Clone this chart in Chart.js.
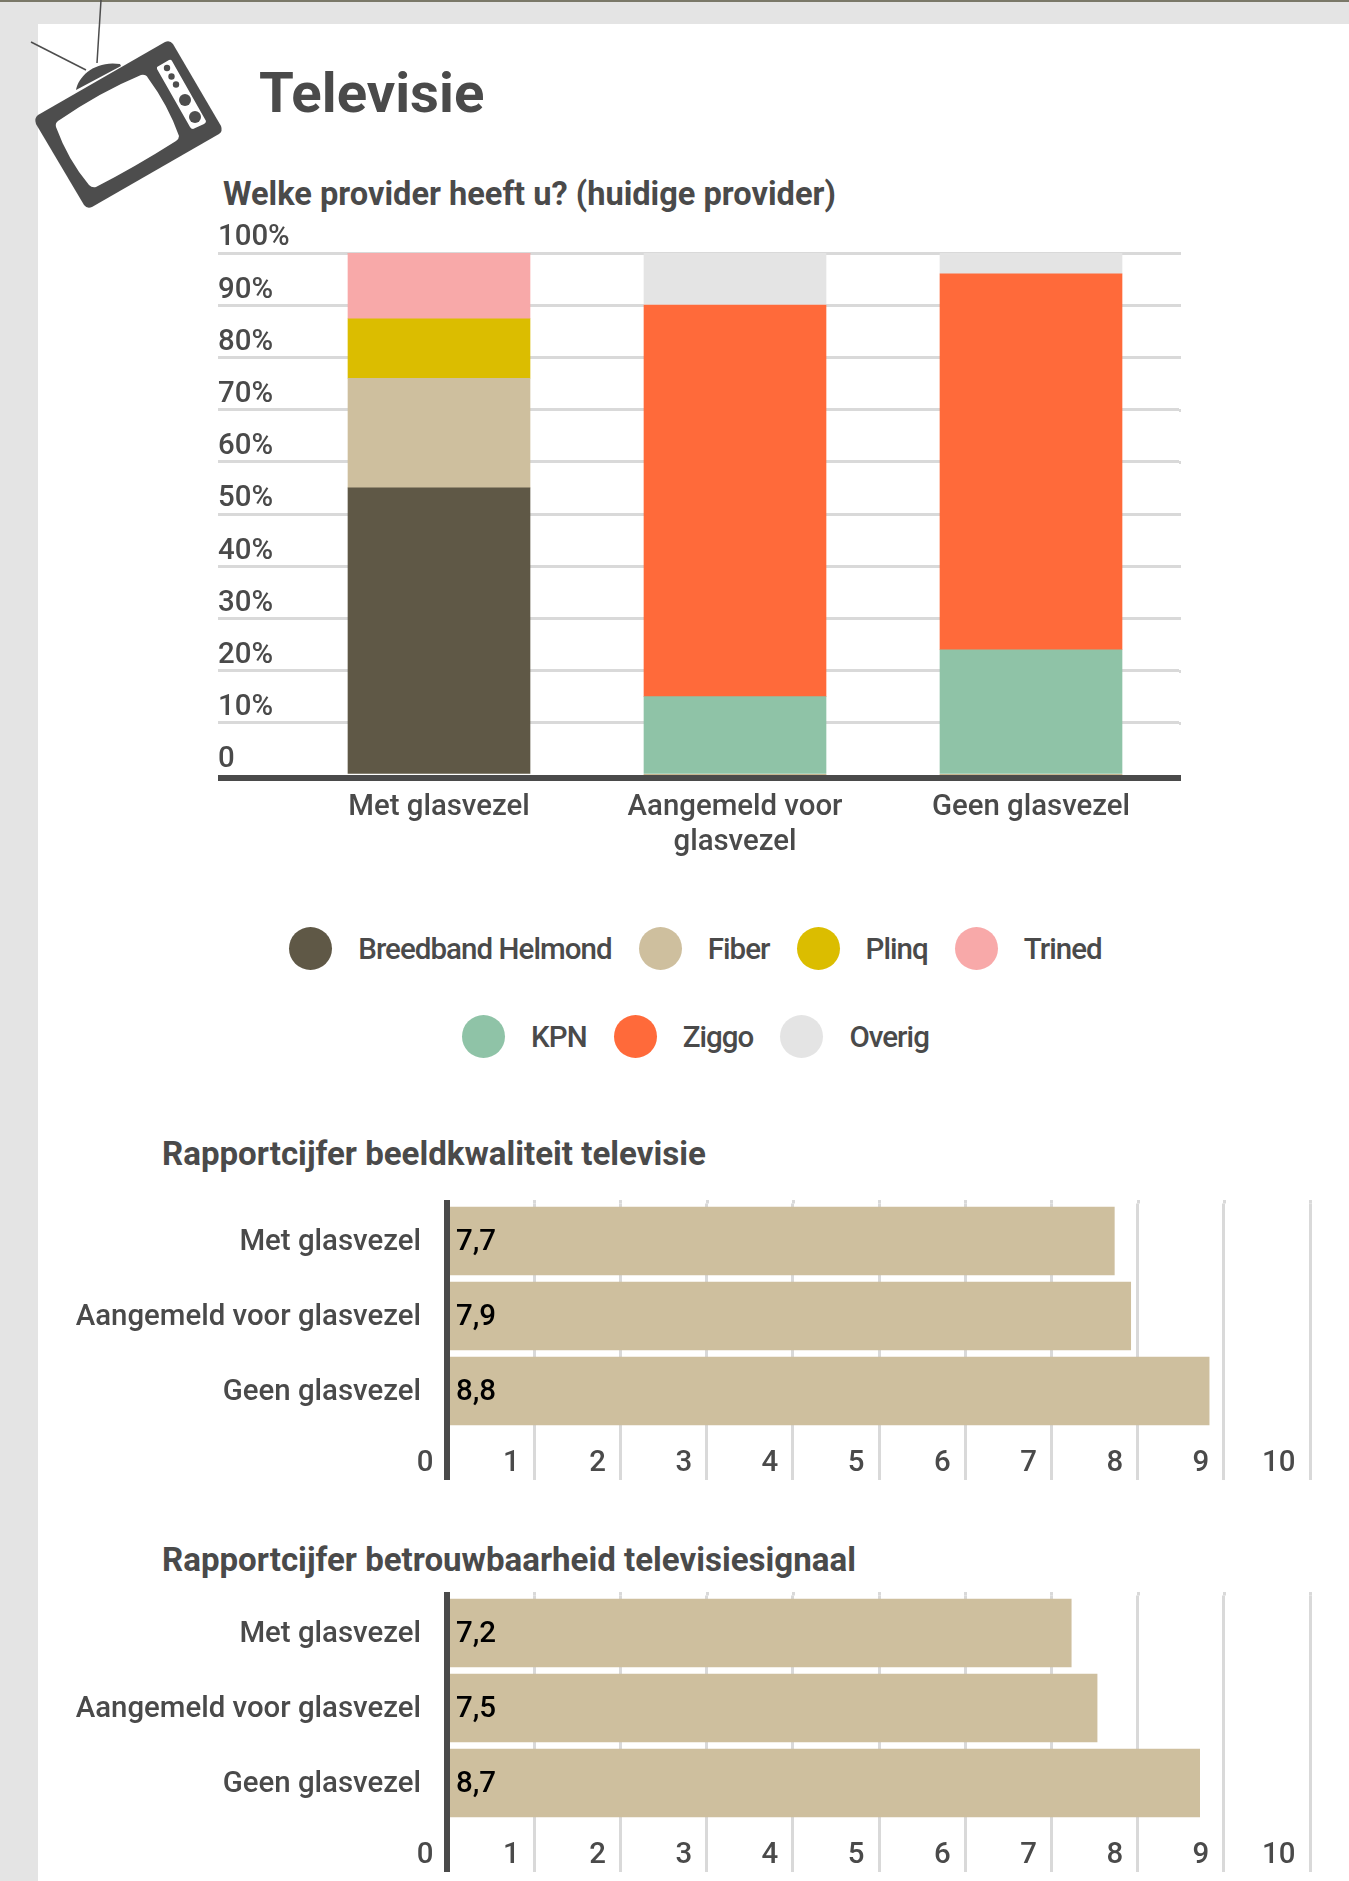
<!DOCTYPE html>
<html>
<head>
<meta charset="utf-8">
<title>Televisie</title>
<script src="https://cdn.jsdelivr.net/npm/chart.js"></script>
<style>
  html, body { margin: 0; padding: 0; background: #e4e4e4; }
  body { position: relative; width: 1349px; height: 1881px; overflow: hidden; font-family: Roboto, sans-serif; color: #4a4a4a; }
  #stripe { position: absolute; left: 0; top: 0; width: 100%; height: 2px; background: #7a7868; }
  #panel { position: absolute; left: 38px; top: 24px; right: 0; bottom: 0; background: #fff; }
  #tv { position: absolute; left: 0; top: 0; }
  canvas { position: absolute; left: 0; }
  h1, h2 { position: absolute; margin: 0; font-weight: 700; white-space: nowrap; line-height: 1; }
  h1 { left: 259px; top: 65px; font-size: 56.3px; }
  h2 { font-size: 33.1px; }
  #legend { position: absolute; left: 280.500px; top: 927px; width: 830px; display: flex; flex-wrap: wrap; justify-content: center; column-gap: 27px; row-gap: 45px; font-size: 29.5px; letter-spacing: -0.95px; font-weight: 500; }
  #legend div { display: flex; align-items: center; height: 43px; }
  #legend i { display: block; width: 43px; height: 43px; border-radius: 50%; margin-right: 26px; }
</style>
</head>
<body>
<div id="stripe"></div>
<div id="panel"></div>
<svg id="tv" width="240" height="220" viewBox="0 0 240 220">
  <g stroke="#4d4d4d" stroke-width="1.5" fill="none">
    <line x1="101" y1="0" x2="97" y2="63"/>
    <line x1="31" y1="42" x2="86" y2="70"/>
  </g>
  <path d="M76 90 C78 76 96 60 120 64 L121 66 Z" fill="#4d4d4d"/>
  <path d="M38 115 L165 42 Q170 40 173 44 L221 126 Q223 131 219 134 L92 207 Q87 209 84 205 L36 124 Q34 118 38 115 Z" fill="#4d4d4d"/>
  <path d="M58 121 Q100 92 141 75 Q146 74 148 78 Q168 105 179 136 Q179 139 176 141 Q135 167 96 187 Q92 188 89 185 Q68 160 56 127 Q55 123 58 121 Z" fill="#fff"/>
  <path d="M157 67 L169 60 Q171 59 172 61 L206 121 Q206 123 204 124 L193 129 Q191 129 190 127 L157 69 Z" fill="#fff"/>
  <g fill="#4d4d4d">
    <circle cx="167" cy="68" r="3.2"/>
    <circle cx="171.500" cy="76.500" r="3.2"/>
    <circle cx="176" cy="84.500" r="3.2"/>
    <circle cx="185" cy="100" r="6"/>
    <circle cx="195" cy="117" r="6"/>
  </g>
</svg>
<h1>Televisie</h1>
<h2 style="left:223px; top:178px; font-size:32.6px">Welke provider heeft u? (huidige provider)</h2>
<canvas id="providerChart" width="1349" height="665" style="top:200px"></canvas>
<div id="legend"></div>
<h2 style="left:162px; top:1137px">Rapportcijfer beeldkwaliteit televisie</h2>
<canvas id="beeldChart" width="1349" height="280" style="top:1200px"></canvas>
<h2 style="left:162px; top:1543px">Rapportcijfer betrouwbaarheid televisiesignaal</h2>
<canvas id="signaalChart" width="1349" height="280" style="top:1592px"></canvas>

<script>
// data
const providerLabels = ['Met glasvezel', ['Aangemeld voor', 'glasvezel'], 'Geen glasvezel'];
const breedbandHelmond = [55, 0, 0];
const fiber = [21, 0, 0];
const plinq = [11.4, 0, 0];
const trined = [12.6, 0, 0];
const kpn = [0, 15, 24];
const ziggo = [0, 75, 72];
const overig = [0, 10, 4];

const rapportLabels = ['Met glasvezel', 'Aangemeld voor glasvezel', 'Geen glasvezel'];
// bar lengths as measured, the printed value is rounded to one decimal
const beeldkwaliteit = [7.73, 7.92, 8.83];
const betrouwbaarheid = [7.23, 7.53, 8.72];

const textColor = '#4a4a4a';
const gridColor = '#d9d9d9';
const axisColor = '#4a4a4a';
const beige = '#cebf9e';

Chart.defaults.font.family = 'Roboto, sans-serif';
Chart.defaults.font.size = 29.4;
Chart.defaults.font.weight = '500';
Chart.defaults.color = textColor;
Chart.defaults.animation = false;
Chart.defaults.responsive = false;

const providerSets = [
  { label: 'Breedband Helmond', data: breedbandHelmond, backgroundColor: '#5f5846' },
  { label: 'Fiber', data: fiber, backgroundColor: beige },
  { label: 'Plinq', data: plinq, backgroundColor: '#dbbd00' },
  { label: 'Trined', data: trined, backgroundColor: '#f8a9a9' },
  { label: 'KPN', data: kpn, backgroundColor: '#8fc3a7' },
  { label: 'Ziggo', data: ziggo, backgroundColor: '#ff6a3a' },
  { label: 'Overig', data: overig, backgroundColor: '#e4e4e4' }
];

// thick axis line under the stacked bars, runs on under the tick labels
const bottomAxisLine = {
  id: 'bottomAxisLine',
  afterDatasetsDraw(chart) {
    const ctx = chart.ctx;
    const yScale = chart.scales.y;
    const right = chart.chartArea.right;
    const y = yScale.getPixelForValue(0);
    ctx.save();
    // grid lines stick out a little on the right
    ctx.fillStyle = gridColor;
    yScale.ticks.forEach(t => {
      if (t.value > 0) ctx.fillRect(right, Math.round(yScale.getPixelForValue(t.value)) - 1, 2, 3);
    });
    ctx.fillStyle = axisColor;
    ctx.fillRect(yScale.left, y, right + 2 - yScale.left, 6);
    ctx.restore();
  }
};

new Chart(document.getElementById('providerChart'), {
  type: 'bar',
  data: { labels: providerLabels, datasets: providerSets.map(s => ({ ...s, barThickness: 182 })) },
  options: {
    layout: { padding: { left: 218, top: 53, right: 170 } },
    plugins: { legend: { display: false }, tooltip: { enabled: false } },
    scales: {
      x: {
        stacked: true,
        grid: { display: false, drawTicks: false },
        border: { display: false },
        ticks: { padding: 15, maxRotation: 0, font: { lineHeight: 1.2 } },
        afterFit(scale) { scale.height = 90; }
      },
      y: {
        stacked: true,
        min: 0,
        max: 100,
        border: { display: false },
        grid: {
          color: ctx => ctx.tick && ctx.tick.value === 0 ? 'transparent' : gridColor,
          lineWidth: 3,
          tickLength: 73
        },
        ticks: {
          stepSize: 10,
          crossAlign: 'far',
          labelOffset: -15,
          callback: v => v === 0 ? '0' : v + '%'
        },
        afterFit(scale) { scale.width = 73; }
      }
    }
  },
  plugins: [bottomAxisLine]
});

// legend as html, built from the datasets
const legendBox = document.getElementById('legend');
providerSets.forEach(s => {
  const item = document.createElement('div');
  const dot = document.createElement('i');
  dot.style.background = s.backgroundColor;
  item.appendChild(dot);
  item.appendChild(document.createTextNode(s.label));
  legendBox.appendChild(item);
});

// value in the bar with a decimal comma + the vertical axis line
const rapportDecor = {
  id: 'rapportDecor',
  afterDatasetsDraw(chart) {
    const ctx = chart.ctx;
    const xScale = chart.scales.x;
    const x0 = xScale.getPixelForValue(0);
    ctx.save();
    // grid lines start a bit above the first bar's slot
    ctx.fillStyle = gridColor;
    xScale.ticks.forEach(t => {
      if (t.value > 0) ctx.fillRect(Math.round(xScale.getPixelForValue(t.value)) - 1, 0, 3, chart.chartArea.top);
    });
    ctx.fillStyle = axisColor;
    ctx.fillRect(x0 - 4, 0, 6, chart.height);
    ctx.fillStyle = '#000';
    ctx.font = '500 29.5px Roboto, sans-serif';
    ctx.textAlign = 'left';
    ctx.textBaseline = 'middle';
    chart.getDatasetMeta(0).data.forEach((bar, i) => {
      const value = chart.data.datasets[0].data[i];
      ctx.fillText(value.toFixed(1).replace('.', ','), x0 + 8, bar.y + 2);
    });
    ctx.restore();
  }
};

function rapportChart(id, values) {
  return new Chart(document.getElementById(id), {
    type: 'bar',
    data: {
      labels: rapportLabels,
      datasets: [{ data: values, backgroundColor: beige, barThickness: 68 }]
    },
    options: {
      indexAxis: 'y',
      layout: { padding: { top: 3.5, right: 39 } },
      plugins: { legend: { display: false }, tooltip: { enabled: false } },
      scales: {
        x: {
          min: 0,
          max: 10,
          border: { display: false },
          grid: {
            color: ctx => ctx.tick && ctx.tick.value === 0 ? 'transparent' : gridColor,
            lineWidth: 3,
            tickLength: 52
          },
          ticks: {
            stepSize: 1,
            align: 'end',
            labelOffset: -14.5,
            padding: -34,
            maxRotation: 0,
            autoSkip: false
          },
          afterFit(scale) { scale.height = 51.5; }
        },
        y: {
          grid: { display: false, drawTicks: false },
          border: { display: false },
          ticks: { padding: 27, labelOffset: 2 },
          afterFit(scale) {
            scale.width = 448;
            // tick padding would otherwise push the chart area down
            scale.paddingTop = 0;
            scale.paddingBottom = 0;
          }
        }
      }
    },
    plugins: [rapportDecor]
  });
}

rapportChart('beeldChart', beeldkwaliteit);
rapportChart('signaalChart', betrouwbaarheid);
</script>
</body>
</html>
